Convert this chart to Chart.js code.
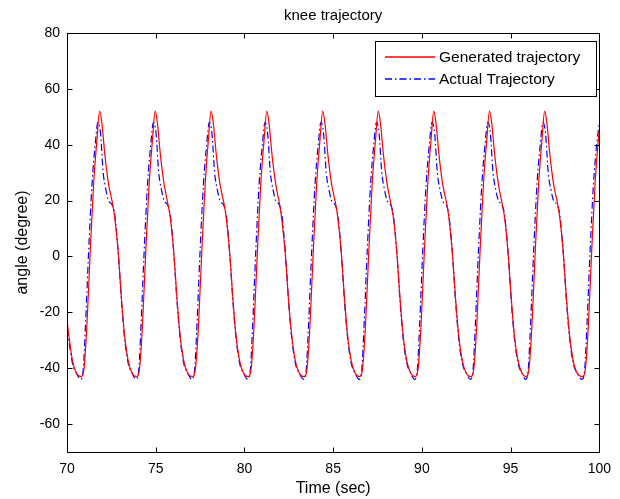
<!DOCTYPE html>
<html>
<head>
<meta charset="utf-8">
<script src="https://cdn.jsdelivr.net/npm/chart.js@4/dist/chart.umd.min.js"></script>
<style>
  html, body { margin: 0; padding: 0; background: #ffffff; }
  #c { display: block; }
</style>
</head>
<body>
<canvas id="c" width="620" height="499"></canvas>
<script>
// ---------- data ----------
const chartTitle = 'knee trajectory';
const xTitle = 'Time (sec)';
const yTitle = 'angle (degree)';
const xTicks = [70, 75, 80, 85, 90, 95, 100];
const yTicks = [-60, -40, -20, 0, 20, 40, 60, 80];
const seriesNames = ['Generated trajectory', 'Actual Trajectory'];

// Generated trajectory (red)
const genTime = [
  70.00, 70.10, 70.30, 70.55,
  70.79, 70.96, 71.12, 71.31, 71.50, 71.69, 71.84, 71.96, 72.14, 72.34, 72.58, 72.69, 72.88, 73.08, 73.24, 73.44, 73.69,
  73.92, 74.09, 74.25, 74.44, 74.63, 74.82, 74.97, 75.09, 75.27, 75.47, 75.71, 75.82, 76.01, 76.21, 76.37, 76.57, 76.82,
  77.07, 77.24, 77.40, 77.59, 77.78, 77.97, 78.12, 78.24, 78.42, 78.62, 78.86, 78.97, 79.16, 79.36, 79.52, 79.72, 79.97,
  80.21, 80.38, 80.54, 80.73, 80.92, 81.11, 81.26, 81.38, 81.56, 81.76, 82.00, 82.11, 82.30, 82.50, 82.66, 82.86, 83.11,
  83.36, 83.53, 83.69, 83.88, 84.07, 84.26, 84.41, 84.53, 84.71, 84.91, 85.15, 85.26, 85.45, 85.65, 85.81, 86.01, 86.26,
  86.49, 86.66, 86.82, 87.01, 87.20, 87.39, 87.54, 87.66, 87.84, 88.04, 88.28, 88.39, 88.58, 88.78, 88.94, 89.14, 89.39,
  89.62, 89.79, 89.95, 90.14, 90.33, 90.52, 90.67, 90.79, 90.97, 91.17, 91.41, 91.52, 91.71, 91.91, 92.07, 92.27, 92.52,
  92.76, 92.93, 93.09, 93.28, 93.47, 93.66, 93.81, 93.93, 94.11, 94.31, 94.55, 94.66, 94.85, 95.05, 95.21, 95.41, 95.66,
  95.87, 96.04, 96.20, 96.39, 96.58, 96.77, 96.92, 97.04, 97.22, 97.42, 97.66, 97.77, 97.96, 98.16, 98.32, 98.52, 98.77,
  99.05, 99.22, 99.38, 99.57, 99.76, 99.95, 100.00
];
const genAngle = [
  -23, -28, -37, -42,
  -43, -40, -25, 2, 26, 42, 52, 48, 36, 26, 18.5, 14, 2, -16, -28, -37, -42,
  -43, -40, -25, 2, 26, 42, 52, 48, 36, 26, 18, 14, 2, -16, -28, -37, -42,
  -43, -40, -26, 1, 25, 42, 52, 48, 36, 26, 18.5, 14, 2, -16, -28, -37, -42,
  -43, -40, -25, 2, 26, 42, 52, 48, 36, 26, 18, 13, 1, -17, -28, -37, -42,
  -43, -40, -25, 2, 26, 42, 52, 48, 36, 26, 18.5, 14, 2, -16, -28, -37, -42,
  -43, -40, -25, 2, 26, 42, 52, 48, 36, 26, 18, 14, 2, -16, -28, -37, -42,
  -43, -40, -25, 2, 26, 42, 52, 48, 36, 26, 18.5, 14, 2, -16, -28, -37, -42,
  -43, -40, -25, 2, 26, 42, 52, 48, 36, 26, 18, 14, 2, -16, -28, -37, -42,
  -43, -40, -25, 2, 26, 42, 52, 48, 36, 26, 18.5, 14, 2, -16, -28, -37, -42,
  -43, -40, -25, 2, 26, 42, 45
];

// Actual trajectory (blue)
const actTime = [
  70.00, 70.10, 70.30, 70.55,
  70.76, 70.92, 71.04, 71.22, 71.41, 71.59, 71.74, 71.89, 72.04, 72.19, 72.34, 72.54, 72.69, 72.88, 73.08, 73.24, 73.44, 73.69,
  73.89, 74.05, 74.17, 74.35, 74.54, 74.72, 74.87, 75.02, 75.17, 75.32, 75.47, 75.67, 75.82, 76.01, 76.21, 76.37, 76.57, 76.82,
  77.04, 77.20, 77.32, 77.50, 77.69, 77.87, 78.02, 78.17, 78.32, 78.47, 78.62, 78.82, 78.97, 79.16, 79.36, 79.52, 79.72, 79.97,
  80.18, 80.34, 80.46, 80.64, 80.83, 81.01, 81.16, 81.31, 81.46, 81.61, 81.76, 81.96, 82.11, 82.30, 82.50, 82.66, 82.86, 83.11,
  83.33, 83.49, 83.61, 83.79, 83.98, 84.16, 84.31, 84.46, 84.61, 84.76, 84.91, 85.11, 85.26, 85.45, 85.65, 85.81, 86.01, 86.26,
  86.46, 86.62, 86.74, 86.92, 87.11, 87.29, 87.44, 87.59, 87.74, 87.89, 88.04, 88.24, 88.39, 88.58, 88.78, 88.94, 89.14, 89.39,
  89.59, 89.75, 89.87, 90.05, 90.24, 90.42, 90.57, 90.72, 90.87, 91.02, 91.17, 91.37, 91.52, 91.71, 91.91, 92.07, 92.27, 92.52,
  92.73, 92.89, 93.01, 93.19, 93.38, 93.56, 93.71, 93.86, 94.01, 94.16, 94.31, 94.51, 94.66, 94.85, 95.05, 95.21, 95.41, 95.66,
  95.84, 96.00, 96.12, 96.30, 96.49, 96.67, 96.82, 96.97, 97.12, 97.27, 97.42, 97.62, 97.77, 97.96, 98.16, 98.32, 98.52, 98.77,
  99.02, 99.18, 99.30, 99.48, 99.67, 99.85, 100.00
];
const actAngle = [
  -26, -30, -38, -42,
  -44, -40, -25, 2, 26, 40, 48, 44, 30, 24, 20, 18.5, 15, 2, -17, -29, -38, -42,
  -44, -40, -25, 2, 26, 40, 48, 44, 30, 24, 20, 18.5, 15, 2, -17, -29, -38, -42,
  -44, -40, -25, 2, 26, 40, 48, 44, 30, 24, 20, 18.5, 15, 2, -17, -29, -38, -42,
  -44, -40, -25, 2, 26, 40, 48, 44, 30, 24, 20, 18.5, 15, 2, -17, -29, -38, -42,
  -44, -40, -25, 2, 26, 40, 48, 44, 30, 24, 20, 18.5, 15, 2, -17, -29, -38, -42,
  -44, -40, -25, 2, 26, 40, 48, 44, 30, 24, 20, 18.5, 15, 2, -17, -29, -38, -42,
  -44, -40, -25, 2, 26, 40, 48, 44, 30, 24, 20, 18.5, 15, 2, -17, -29, -38, -42,
  -44, -40, -25, 2, 26, 40, 48, 44, 30, 24, 20, 18.5, 15, 2, -17, -29, -38, -42,
  -44, -40, -25, 2, 26, 40, 48, 44, 30, 24, 20, 18.5, 15, 2, -17, -29, -38, -42,
  -44, -40, -25, 2, 26, 40, 48
];

// ---------- chart ----------
const FONT = '"Liberation Sans", Arial, sans-serif';
const TICK_SIZE = 14;
const TEXT_SIZE = 15;
const LEGEND_SIZE = 15.5;
const LABEL_SIZE = 16;
const RED = '#ff0000';
const BLUE = '#0000ff';
const BLUE_DASH = [7, 3, 1.5, 3];

const toPoints = (xs, ys) => xs.map((t, i) => ({ x: t, y: ys[i] }));

const matlabFrame = {
  id: 'matlabFrame',
  afterDraw(chart) {
    const { ctx, chartArea: a, scales } = chart;
    const xs = scales.x, ys = scales.y;
    ctx.save();
    ctx.strokeStyle = '#000';
    ctx.lineWidth = 1;
    const L = Math.round(a.left) + 0.5, R = Math.round(a.right) + 0.5;
    const T = Math.round(a.top) + 0.5, B = Math.round(a.bottom) + 0.5;
    ctx.strokeRect(L, T, R - L, B - T);
    ctx.beginPath();
    xTicks.forEach(v => {
      const px = Math.round(xs.getPixelForValue(v)) + 0.5;
      ctx.moveTo(px, B); ctx.lineTo(px, B - 5);
      ctx.moveTo(px, T); ctx.lineTo(px, T + 5);
    });
    yTicks.forEach(v => {
      const py = Math.round(ys.getPixelForValue(v)) + 0.5;
      ctx.moveTo(L, py); ctx.lineTo(L + 5, py);
      ctx.moveTo(R, py); ctx.lineTo(R - 5, py);
    });
    ctx.stroke();

    // titles
    ctx.fillStyle = '#000';
    ctx.textAlign = 'center';
    ctx.textBaseline = 'middle';
    const cx = (a.left + a.right) / 2;
    ctx.font = TEXT_SIZE + 'px ' + FONT;
    ctx.fillText(chartTitle, cx, 16);
    ctx.font = LABEL_SIZE + 'px ' + FONT;
    ctx.fillText(xTitle, cx, 489);
    ctx.save();
    ctx.translate(23, (a.top + a.bottom) / 2);
    ctx.rotate(-Math.PI / 2);
    ctx.fillText(yTitle, 0, 0);
    ctx.restore();

    // legend box
    const bx = 375.5, by = 41.5, bw = 221, bh = 55;
    ctx.fillStyle = '#fff';
    ctx.fillRect(bx, by, bw, bh);
    ctx.strokeStyle = '#000';
    ctx.lineWidth = 1;
    ctx.strokeRect(bx, by, bw, bh);
    const rows = [57, 79];
    const colors = [RED, BLUE];
    const dashes = [[], BLUE_DASH];
    ctx.font = LEGEND_SIZE + 'px ' + FONT;
    seriesNames.forEach((name, i) => {
      ctx.save();
      ctx.strokeStyle = colors[i];
      ctx.lineWidth = 1.6;
      ctx.setLineDash(dashes[i]);
      ctx.beginPath();
      ctx.moveTo(385, rows[i]); ctx.lineTo(435, rows[i]);
      ctx.stroke();
      ctx.restore();
      ctx.fillStyle = '#000';
      ctx.textAlign = 'left';
      ctx.fillText(name, 439, rows[i] + 1);
    });
    ctx.restore();
  }
};

new Chart(document.getElementById('c'), {
  type: 'line',
  data: {
    datasets: [
      {
        label: seriesNames[0],
        data: toPoints(genTime, genAngle),
        borderColor: RED,
        borderWidth: 1.2,
        pointRadius: 0,
        cubicInterpolationMode: 'monotone',
        fill: false
      },
      {
        label: seriesNames[1],
        data: toPoints(actTime, actAngle),
        borderColor: BLUE,
        borderWidth: 1.2,
        borderDash: BLUE_DASH,
        pointRadius: 0,
        cubicInterpolationMode: 'monotone',
        fill: false
      }
    ]
  },
  options: {
    responsive: false,
    animation: false,
    layout: { padding: { top: 33, right: 20, left: 0, bottom: 0 } },
    plugins: { legend: { display: false }, title: { display: false }, tooltip: { enabled: false } },
    scales: {
      x: {
        type: 'linear',
        min: 70, max: 100,
        afterBuildTicks: s => { s.ticks = xTicks.map(v => ({ value: v })); },
        afterFit: s => { s.height = 47; },
        grid: { display: false, drawTicks: false },
        border: { display: false },
        ticks: { color: '#000', padding: 9, maxRotation: 0, font: { family: FONT, size: TICK_SIZE } }
      },
      y: {
        type: 'linear',
        min: -70, max: 80,
        afterBuildTicks: s => { s.ticks = yTicks.map(v => ({ value: v })); },
        afterFit: s => { s.width = 67; },
        grid: { display: false, drawTicks: false },
        border: { display: false },
        ticks: { color: '#000', padding: 7, font: { family: FONT, size: TICK_SIZE } }
      }
    }
  },
  plugins: [matlabFrame]
});
</script>
</body>
</html>
